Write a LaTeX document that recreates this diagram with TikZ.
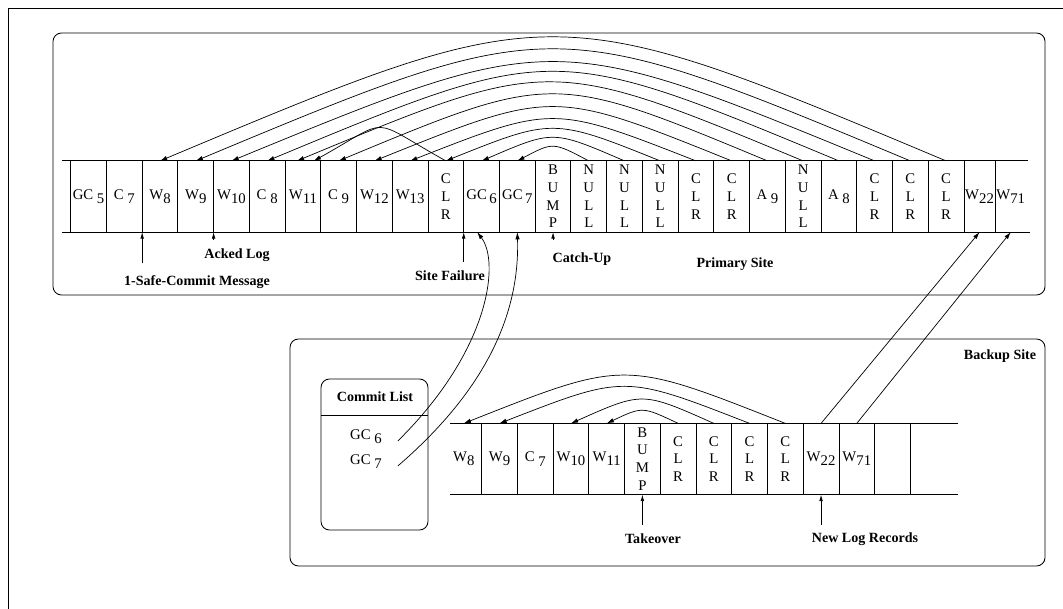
\documentclass[tikz,border=0pt]{standalone}
\usepackage{fontspec}
\setmainfont{Liberation Serif}
\usetikzlibrary{arrows.meta,positioning}
\newcommand{\lsub}[1]{\raisebox{-3pt}{#1}}

\begin{document}
\begin{tikzpicture}[x=0.025cm,y=-0.025cm,line width=0.6pt,
    cell/.style={minimum width=0.893cm,minimum height=1.78cm,
                 inner sep=0pt,outer sep=0pt,align=center,
                 font=\fontsize{10.5}{12.6}\selectfont},
    ptr/.style={-{Latex[length=1.8mm,width=1.1mm]},line width=0.5pt},
    tick/.style={-{Latex[length=1.6mm,width=0.9mm]},line width=0.5pt},
    note/.style={font=\fontsize{10}{12}\selectfont\bfseries},
    site/.style={rounded corners=6pt},
]
\useasboundingbox (0,0) rectangle (1063,609);

% outer frame
\draw (8,609) -- (8,8) -- (1063,8);

% site boxes
\draw[site] (53,33) rectangle (1045,295);
\draw[site] (290,339) rectangle (1045,566);
\draw[site] (321,379) rectangle (428,530);
\draw (321,415) -- (428,415);

% primary log
\node[cell] (p1) at (88.56,196.5) {GC \lsub{5}};
\node[cell,right=0pt of p1]  (p2)  {C \lsub{7}};
\node[cell,right=0pt of p2]  (p3)  {W\lsub{8}};
\node[cell,right=0pt of p3]  (p4)  {W\lsub{9}};
\node[cell,right=0pt of p4]  (p5)  {W\lsub{10}};
\node[cell,right=0pt of p5]  (p6)  {C \lsub{8}};
\node[cell,right=0pt of p6]  (p7)  {W\lsub{11}};
\node[cell,right=0pt of p7]  (p8)  {C \lsub{9}};
\node[cell,right=0pt of p8]  (p9)  {W\lsub{12}};
\node[cell,right=0pt of p9]  (p10) {W\lsub{13}};
\node[cell,right=0pt of p10] (p11) {C\\L\\R};
\node[cell,right=0pt of p11] (p12) {GC\,\lsub{6}};
\node[cell,right=0pt of p12] (p13) {GC\,\lsub{7}};
\node[cell,right=0pt of p13] (p14) {B\\U\\M\\P};
\node[cell,right=0pt of p14] (p15) {N\\U\\L\\L};
\node[cell,right=0pt of p15] (p16) {N\\U\\L\\L};
\node[cell,right=0pt of p16] (p17) {N\\U\\L\\L};
\node[cell,right=0pt of p17] (p18) {C\\L\\R};
\node[cell,right=0pt of p18] (p19) {C\\L\\R};
\node[cell,right=0pt of p19] (p20) {A \lsub{9}};
\node[cell,right=0pt of p20] (p21) {N\\U\\L\\L};
\node[cell,right=0pt of p21] (p22) {A \lsub{8}};
\node[cell,right=0pt of p22] (p23) {C\\L\\R};
\node[cell,right=0pt of p23] (p24) {C\\L\\R};
\node[cell,right=0pt of p24] (p25) {C\\L\\R};
\node[cell,right=0pt of p25,minimum width=0.78cm] (p26) {W\lsub{22}};
\node[cell,right=0pt of p26,minimum width=0.78cm] (p27) {W\lsub{71}};

\draw ([xshift=-0.22cm]p1.north west) -- ([xshift=0.05cm]p27.north east);
\draw ([xshift=-0.22cm]p1.south west) -- ([xshift=0.1cm]p27.south east);
\foreach \i in {1,...,27} \draw (p\i.north west) -- (p\i.south west);

% backup log
\node[cell] (b1) at (463.75,459) {W\lsub{8}};
\node[cell,right=0pt of b1]  (b2)  {W\lsub{9}};
\node[cell,right=0pt of b2]  (b3)  {C \lsub{7}};
\node[cell,right=0pt of b3]  (b4)  {W\lsub{10}};
\node[cell,right=0pt of b4]  (b5)  {W\lsub{11}};
\node[cell,right=0pt of b5]  (b6)  {B\\U\\M\\P};
\node[cell,right=0pt of b6]  (b7)  {C\\L\\R};
\node[cell,right=0pt of b7]  (b8)  {C\\L\\R};
\node[cell,right=0pt of b8]  (b9)  {C\\L\\R};
\node[cell,right=0pt of b9]  (b10) {C\\L\\R};
\node[cell,right=0pt of b10] (b11) {W\lsub{22}};
\node[cell,right=0pt of b11] (b12) {W\lsub{71}};
\node[cell,right=0pt of b12] (b13) {};

\draw ([xshift=0.1cm]b1.north west) -- ([xshift=1.2cm]b13.north east);
\draw ([xshift=0.1cm]b1.south west) -- ([xshift=1.2cm]b13.south east);
\foreach \i in {1,...,13} \draw (b\i.north east) -- (b\i.south east);

% back pointers, primary
\draw[ptr] (p25.north) .. controls +(-393,-165) and +(393,-165) .. (p3.north);
\draw[ptr] (p24.north) .. controls +(-357,-149) and +(357,-149) .. (p4.north);
\draw[ptr] (p23.north) .. controls +(-321,-132) and +(321,-132) .. (p5.north);
\draw[ptr] (p22.north) .. controls +(-286,-119) and +(286,-119) .. (p6.north);
\draw[ptr] (p21.north) .. controls +(-253,-105) and +(253,-105) .. ([xshift=-0.15cm]p7.north);
\draw[ptr] (p20.north) .. controls +(-214,-89) and +(214,-89) .. (p8.north);
\draw[ptr] (p19.north) .. controls +(-179,-72) and +(179,-72) .. (p9.north);
\draw[ptr] (p18.north) .. controls +(-143,-56) and +(143,-56) .. (p10.north);
\draw[ptr] (p17.north) .. controls +(-107,-43) and +(107,-43) .. (p11.north);
\draw[ptr] (p16.north) .. controls +(-72,-31) and +(72,-31) .. (p12.north);
\draw[ptr] (p15.north) .. controls +(-36,-19) and +(36,-19) .. (p13.north);
\draw[ptr] (p11.north) .. controls +(-79,-44) and +(79,-44) .. ([xshift=0.27cm]p7.north);

% back pointers, backup
\draw[ptr] (b7.north)  .. controls +(-36,-17) and +(36,-17) .. (b5.north);
\draw[ptr] (b8.north)  .. controls +(-72,-32) and +(72,-32) .. (b4.north);
\draw[ptr] (b9.north)  .. controls +(-126,-49) and +(126,-49) .. (b2.north);
\draw[ptr] (b10.north) .. controls +(-162,-64) and +(162,-64) .. (b1.north);

% commit list
\node[note] (cltitle) at (375,397) {Commit List};
\node[cell,minimum height=0pt,minimum width=0pt] (cl6) at (366,437) {GC \lsub{6}};
\node[cell,minimum height=0pt,minimum width=0pt] (cl7) at (366,462) {GC \lsub{7}};
\draw[ptr] ([xshift=0.4cm,yshift=-0.1cm]cl6.east)
    .. controls (490,350) and (500,262) .. ([xshift=-0.11cm]p12.south);
\draw[ptr] ([xshift=0.4cm,yshift=-0.1cm]cl7.east)
    .. controls (480,395) and (520,320) .. (p13.south);

% shipped log records
\draw[ptr] (b11.north) -- (p26.south);
\draw[ptr] (b12.north) -- (p27.south);

% markers, primary
\node[note] (safe)  at (197,282) {1-Safe-Commit Message};
\node[note] (acked) at (237,255) {Acked Log};
\node[note] (fail)  at (450,276) {Site Failure};
\node[note] (catch) at (582,259) {Catch-Up};
\node[note] (prim)  at (735,264) {Primary Site};
\draw[tick] ([yshift=-0.78cm]p3.south west) -- (p3.south west);
\draw[tick] ([yshift=-0.2cm]p5.south west) -- (p5.south west);
\draw[tick] ([yshift=-0.75cm]p12.south west) -- (p12.south west);
\draw[tick] ([yshift=-0.2cm]p14.south) -- (p14.south);

% markers, backup
\node[note] (back)  at (1000,356) {Backup Site};
\node[note] (take)  at (653,539) {Takeover};
\node[note] (newlr) at (865,539) {New Log Records};
\draw[tick] ([yshift=-0.75cm]b6.south) -- (b6.south);
\draw[tick] ([yshift=-0.75cm]b11.south) -- (b11.south);

\end{tikzpicture}
\end{document}
